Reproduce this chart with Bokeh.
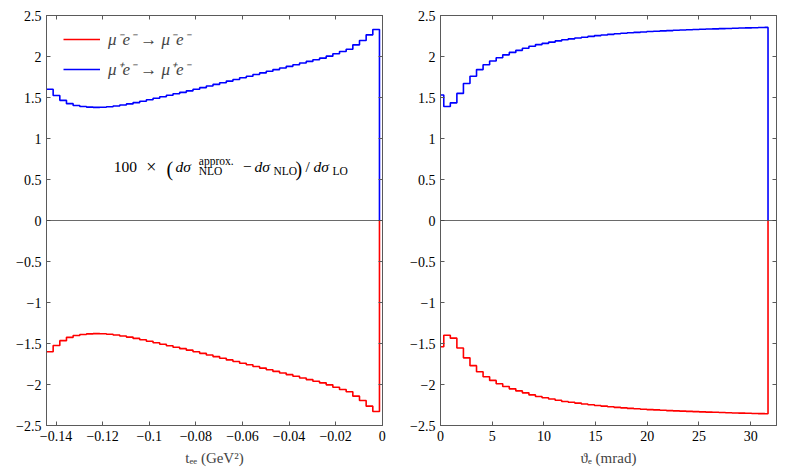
from bokeh.plotting import figure
from bokeh.layouts import row
from bokeh.models import (Range1d, LinearAxis, FixedTicker, CustomJSTickFormatter,
                          Span, Label)
from bokeh.embed import file_html
from bokeh.resources import INLINE
import numpy as np

# ---------------- data ----------------
# left panel: t_ee histogram (50 equal bins)
t_lo, t_hi = -0.1441, -0.0012
t_blue = [1.600, 1.525, 1.465, 1.425, 1.402, 1.390, 1.383, 1.380, 1.382, 1.388,
          1.397, 1.408, 1.422, 1.438, 1.455, 1.473, 1.491, 1.509, 1.527, 1.545,
          1.563, 1.581, 1.600, 1.620, 1.640, 1.660, 1.680, 1.700, 1.720, 1.740,
          1.760, 1.780, 1.800, 1.820, 1.840, 1.860, 1.880, 1.900, 1.920, 1.940,
          1.960, 1.980, 2.004, 2.033, 2.061, 2.089, 2.142, 2.195, 2.264, 2.329]
t_red = [-1.600, -1.525, -1.465, -1.425, -1.402, -1.390, -1.383, -1.380, -1.382, -1.388,
         -1.397, -1.408, -1.422, -1.438, -1.455, -1.473, -1.491, -1.509, -1.527, -1.545,
         -1.563, -1.581, -1.600, -1.620, -1.640, -1.660, -1.680, -1.700, -1.720, -1.740,
         -1.760, -1.780, -1.800, -1.820, -1.840, -1.860, -1.880, -1.900, -1.920, -1.940,
         -1.960, -1.980, -2.004, -2.033, -2.061, -2.089, -2.142, -2.195, -2.264, -2.329]

# right panel: theta_e (mrad), points every 0.6336 mrad from 0 to 31.68
th_end = 31.68
th_blue = [1.530, 1.390, 1.435, 1.550, 1.670, 1.760, 1.840, 1.900, 1.945, 1.985,
           2.020, 2.050, 2.075, 2.100, 2.125, 2.145, 2.160, 2.175, 2.190, 2.205,
           2.215, 2.225, 2.235, 2.245, 2.255, 2.262, 2.270, 2.277, 2.283, 2.289,
           2.294, 2.299, 2.304, 2.308, 2.312, 2.316, 2.320, 2.323, 2.326, 2.329,
           2.332, 2.335, 2.337, 2.340, 2.342, 2.345, 2.347, 2.349, 2.351, 2.353, 2.355]
th_red = [-1.540, -1.400, -1.435, -1.555, -1.675, -1.770, -1.845, -1.905, -1.950, -1.990,
          -2.025, -2.053, -2.078, -2.102, -2.127, -2.147, -2.162, -2.177, -2.192, -2.207,
          -2.217, -2.227, -2.237, -2.247, -2.257, -2.264, -2.272, -2.279, -2.285, -2.291,
          -2.296, -2.301, -2.306, -2.310, -2.314, -2.318, -2.322, -2.325, -2.328, -2.331,
          -2.334, -2.337, -2.339, -2.342, -2.344, -2.347, -2.349, -2.351, -2.353, -2.355, -2.357]

y_ticks = [-2.5, -2, -1.5, -1, -0.5, 0, 0.5, 1, 1.5, 2, 2.5]
t_ticks = [-0.14, -0.12, -0.1, -0.08, -0.06, -0.04, -0.02, 0]
th_ticks = [0, 5, 10, 15, 20, 25, 30]

label_red = "μ⁻e⁻ → μ⁻e⁻"
label_blue = "μ⁺e⁻ → μ⁺e⁻"

# ---------------- style ----------------
FONT = "Liberation Serif"
FRAME = "#5a5a5a"
RED = "#ff0000"
BLUE = "#0000ff"

fmt_code = 'if (tick < 0) { return "\\u2212" + (-tick).toString(); } return tick.toString();'


def style(p, xticks, xlabel):
    p.xgrid.visible = False
    p.ygrid.visible = False
    p.outline_line_color = FRAME
    p.outline_line_width = 1
    p.background_fill_color = "white"
    p.border_fill_color = "white"
    p.add_layout(LinearAxis(), "right")
    p.add_layout(LinearAxis(), "above")
    for ax in p.axis:
        ax.major_tick_in = 4
        ax.major_tick_out = 0
        ax.minor_tick_line_color = None
        ax.axis_line_color = FRAME
        ax.major_tick_line_color = FRAME
        ax.major_label_text_font = FONT
        ax.major_label_text_font_size = "14px"
        ax.major_label_text_color = "black"
        ax.major_label_standoff = 5
    for ax in p.xaxis:
        ax.ticker = FixedTicker(ticks=xticks)
        ax.formatter = CustomJSTickFormatter(code=fmt_code)
    for ax in p.yaxis:
        ax.ticker = FixedTicker(ticks=y_ticks)
        ax.formatter = CustomJSTickFormatter(code=fmt_code)
    for ax in p.right + p.above:
        if isinstance(ax, LinearAxis):
            ax.major_label_text_font_size = "0px"
            ax.major_label_text_color = None
            ax.major_label_standoff = 0
    p.below[0].axis_label = xlabel
    p.below[0].axis_label_text_font = FONT
    p.below[0].axis_label_text_font_size = "15px"
    p.below[0].axis_label_text_font_style = "normal"
    p.below[0].axis_label_standoff = 6
    p.add_layout(Span(location=0, dimension="width", line_color="#444444", line_width=0.8))


# ---------------- left panel ----------------
p1 = figure(width=402, height=472, x_range=Range1d(-0.1441, 0.0001), y_range=Range1d(-2.5, 2.5),
            output_backend="svg", toolbar_location=None,
            min_border_left=46, min_border_right=20, min_border_top=15, min_border_bottom=47)
style(p1, t_ticks, "tₑₑ (GeV²)")

t_edges = np.linspace(t_lo, t_hi, len(t_blue) + 1)
p1.step(x=t_edges, y=t_red + [0.0], mode="after", line_color=RED, line_width=1.6, legend_label=label_red)
p1.step(x=t_edges, y=t_blue + [0.0], mode="after", line_color=BLUE, line_width=1.6, legend_label=label_blue)

lg = p1.legend[0]
lg.location = (17, 345)
lg.margin = 0
lg.padding = 0
lg.spacing = 7
lg.glyph_width = 37
lg.glyph_height = 12
lg.label_height = 12
lg.label_standoff = 8
lg.label_text_font = FONT
lg.label_text_font_style = "italic"
lg.label_text_font_size = "17px"
lg.border_line_color = None
lg.background_fill_alpha = 0

# annotation: 100 × (dσ^approx._NLO − dσ_NLO) / dσ_LO
MAIN, SCRIPT, BIG = "15.5px", "11.5px", "20px"
y_main, y_sup, y_sub, y_big = 0.6585, 0.723, 0.601, 0.634
pieces = [
    ("100", -0.11522, y_main, MAIN, "normal"),
    ("×", -0.10130, y_main, "18px", "normal"),
    ("(", -0.09260, y_big, BIG, "normal"),
    ("dσ", -0.08874, y_main, MAIN, "italic"),
    ("approx.", -0.07874, y_sup, SCRIPT, "normal"),
    ("NLO", -0.07874, y_sub, SCRIPT, "normal"),
    ("−", -0.05973, y_main, MAIN, "normal"),
    ("dσ", -0.05480, y_main, MAIN, "italic"),
    ("NLO", -0.04668, y_sub, SCRIPT, "normal"),
    (")", -0.03723, y_big, BIG, "normal"),
    ("/", -0.03294, y_main, MAIN, "normal"),
    ("dσ", -0.02951, y_main, MAIN, "italic"),
    ("LO", -0.02136, y_sub, SCRIPT, "normal"),
]
for txt, x, y, size, sty in pieces:
    p1.add_layout(Label(x=x, y=y, text=txt, text_font=FONT, text_font_size=size,
                        text_font_style=sty, text_align="left", text_baseline="alphabetic",
                        text_color="black"))

# ---------------- right panel ----------------
p2 = figure(width=379, height=472, x_range=Range1d(0, 32.5), y_range=Range1d(-2.5, 2.5),
            output_backend="svg", toolbar_location=None,
            min_border_left=38, min_border_right=5, min_border_top=15, min_border_bottom=47)
style(p2, th_ticks, "ϑₑ (mrad)")

th_pts = list(np.linspace(0, th_end, len(th_blue))) + [th_end]
p2.step(x=th_pts, y=th_red + [0.0], mode="center", line_color=RED, line_width=1.6)
p2.step(x=th_pts, y=th_blue + [0.0], mode="center", line_color=BLUE, line_width=1.6)

layout = row(p1, p2)
open("out.html", "w").write(file_html(layout, INLINE))
